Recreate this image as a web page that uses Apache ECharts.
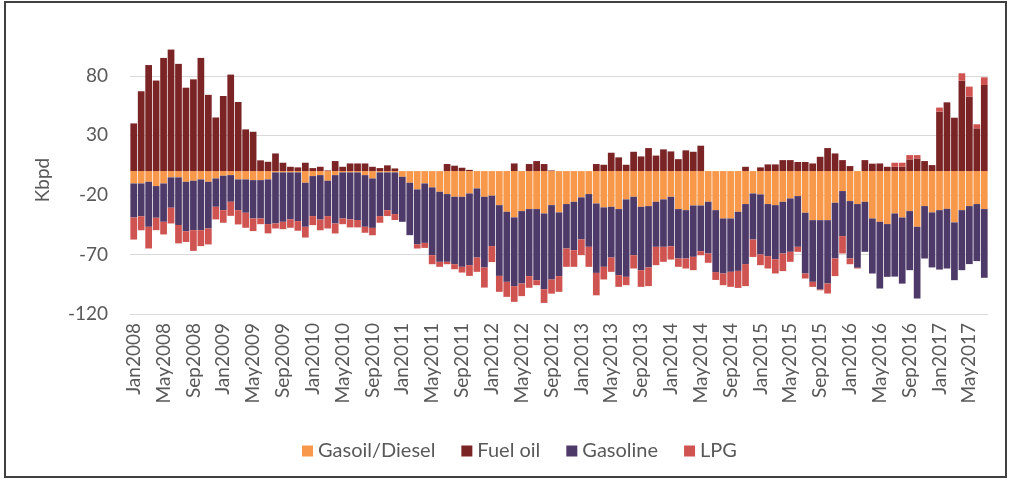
<html>

<head>
    <meta charset="UTF-8">
    <title>Kbpd by product</title>
    <script src="https://cdn.jsdelivr.net/npm/echarts@6/dist/echarts.min.js"></script>
    <style>
        body { margin: 0; background: #fff; }
    </style>
</head>

<body>
    <div id="container" style="width: 1011px;height:479px;"></div>
</body>

<script>
    // monthly, Jan2008 .. Jul2017
    var months = ['Jan', 'Feb', 'Mar', 'Apr', 'May', 'Jun', 'Jul', 'Aug', 'Sep', 'Oct', 'Nov', 'Dec'];
    var categories = [];
    for (var i = 0; i < 115; i++) {
        categories.push(months[i % 12] + (2008 + Math.floor(i / 12)));
    }

    var gasoil = [
        -10.4, -10.4, -9, -12.6, -10.4, -5.3, -5.3, -9, -8.1, -7, -9, -6.2, -3.9, -3.4, -7, -7, -7.6, -7.6, -7,
        -1.1, -1.1, -1.1, -1.1, -9.8, -4.2, -3.4, -8.1, -3.4, -1.1, -1.1, -1.1, -3.4, -6.2, -1.1, -1.1, -1.1, -4.8, -9.8, -15.4,
        -10.4, -13.7, -17.4, -19.3, -21.6, -21.6, -18.8, -14.6, -21.6, -20.7, -28.6, -34.2, -38.9, -33.6, -31.9, -31.9, -35.6, -28.6, -34.7, -27.7,
        -25.8, -22.1, -19.3, -27.2, -30.5, -30, -31.9, -23.8, -21.6, -30, -29.4, -25.8, -23.8, -21.6, -31.9, -32.8, -28.9, -28.9, -25.8, -32.8,
        -39.8, -39.8, -34.2, -27.7, -18.8, -19.6, -27.7, -28.6, -25.8, -23, -21, -35, -41.2, -41.2, -41.2, -26.6, -16.8, -25.2, -27.7, -25.8,
        -39.8, -42.6, -44.5, -35.6, -39, -33.6, -46.8, -29.4, -34.7, -32.8, -31.7, -43.1, -32.8, -29.4, -27.7, -31.9
    ];
    var fuelOil = [
        40, 67, 89, 76, 95, 102, 90, 70, 77, 95, 64, 45, 63, 81, 58, 35, 33, 9, 7.8,
        14.8, 7, 3.6, 3.1, 7, 2.5, 3.6, 0.5, 8.4, 3.6, 6.4, 6.4, 6.4, 3.6, 2.5, 4.8, 2.2, 0, 0, 0,
        0, 0, 0, 5.9, 4.5, 2.8, 1, 0, 0, 0, 0, 0, 6.4, 0, 5.9, 8.4, 5.9, 0.5, 0, 0,
        0, 0, 0, 5.9, 5.3, 15.4, 11.5, 5.3, 16.2, 12.3, 19.3, 13, 18.2, 16.5, 10, 17.4, 16.2, 21.3, 0, 0,
        0, 0, 0, 3.6, 0, 3.1, 5.6, 5.6, 9.2, 9.2, 7.6, 7.6, 6.4, 12, 19.3, 14.8, 9.2, 4.2, 0, 9.2,
        6.2, 6.4, 3.6, 3.6, 3.6, 9.8, 10.6, 8.4, 5, 49.9, 57.7, 44.8, 75.9, 62.5, 35.9, 72.3
    ];
    var gasoline = [
        -28.6, -27.5, -37.8, -26.6, -32.2, -25.5, -40, -41.5, -41.5, -42.6, -39.2, -23.8, -28.9, -22.4, -25.8, -28, -32.2, -32.2, -37.5,
        -42.9, -41.5, -39.5, -40.9, -37, -33.6, -37.3, -29.7, -40.6, -38.7, -39.5, -40, -43.4, -41.5, -36.7, -31.7, -35, -37.8, -44, -46,
        -49.9, -56.9, -58.8, -56.9, -56.6, -58.8, -60.2, -58, -59.4, -42.3, -59.4, -58.8, -57.7, -60.8, -56.3, -59.7, -63.6, -62.5, -53.5, -37.3,
        -40.6, -35.3, -44.3, -58.3, -49.9, -42.6, -55.5, -65, -49, -53.2, -51.5, -37.8, -39.8, -41.5, -41.5, -40.6, -43.1, -38.4, -43.4, -52,
        -46.2, -44.8, -49.6, -50.4, -38.7, -50.4, -43.7, -45.4, -43.4, -44.8, -42.6, -51, -51.8, -58.3, -53.2, -46.8, -37.8, -48.2, -53.5, -42,
        -46.2, -56, -44.3, -53, -55.5, -49.6, -60.2, -44, -46.2, -49.9, -50.1, -48.5, -50.4, -48.7, -47.9, -57.7
    ];
    var lpg = [
        -18.5, -11.8, -18.2, -10.4, -10.6, -13.2, -15.4, -9, -17.4, -13.4, -13.4, -10.6, -10.6, -11.8, -12, -12.6, -10.6, -4.8, -7.8,
        -4.2, -6.2, -7, -8.1, -9, -7.6, -9, -10.4, -8.4, -4.8, -6.7, -6.2, -5, -6.2, -5.6, -5, -5, 0, 0, -3.6,
        -4.2, -7.6, -4.2, -2, -4.2, -4.8, -9, -12, -16.8, -13.4, -13.4, -12.6, -13.2, -10.6, -9.8, -4.2, -11.5, -11.8, -13.2, -15.4,
        -14, -13.2, -16.8, -18.8, -10.6, -12, -9.8, -7, -11.2, -14, -15.7, -15.4, -12.6, -11.2, -7, -8.4, -11.2, -3.4, -7.8, -6.6,
        -9.8, -12.6, -14.3, -18.5, -14.6, -9, -10.4, -12, -14.8, -8.4, -4.2, -4.2, -4.2, -0.6, -8.4, -14.8, -14.6, -4.8, -0.6, 0,
        0, 0, 0, 3.4, 3.4, 3.6, 2.8, 0, 0, 3.4, 0, 0, 6.2, 8.4, 3.4, 6.4
    ];

    var yTicks = { min: -120, max: 105, step: 50 };

    var mycharts = echarts.init(document.getElementById('container'));

    function makeSeries(name, data, color) {
        return {
            name: name,
            type: 'bar',
            stack: 'total',
            barCategoryGap: '10%',
            itemStyle: { color: color },
            emphasis: { disabled: true },
            data: data
        };
    }

    var font = 'Lato, "Open Sans", sans-serif';

    var option = {
        animation: false,
        backgroundColor: '#fff',
        textStyle: { fontFamily: font },
        graphic: [{
            type: 'rect',
            silent: true,
            shape: { x: 5, y: 2, width: 1001, height: 475 },
            style: { fill: 'none', stroke: '#404040', lineWidth: 2 }
        }],
        legend: {
            left: 297,
            top: 436,
            icon: 'rect',
            itemWidth: 11,
            itemHeight: 11,
            itemGap: 26,
            textStyle: { fontSize: 20, color: '#595959', fontFamily: font },
            data: ['Gasoil/Diesel', 'Fuel oil', 'Gasoline', 'LPG']
        },
        grid: {
            left: 130,
            right: 23,
            top: 46,
            bottom: 165,
            containLabel: false
        },
        xAxis: {
            type: 'category',
            data: categories,
            axisLine: { onZero: false, lineStyle: { color: '#d9d9d9' } },
            axisTick: { show: false },
            axisLabel: {
                interval: 3,
                rotate: 90,
                margin: 9,
                fontSize: 19,
                color: '#595959',
                fontFamily: font
            }
        },
        yAxis: {
            type: 'value',
            min: yTicks.min,
            max: yTicks.max,
            interval: yTicks.step,
            name: 'Kbpd',
            nameLocation: 'middle',
            nameGap: 78,
            nameTextStyle: { fontSize: 19, color: '#595959', fontFamily: font },
            axisLine: { show: false },
            axisTick: { show: false },
            axisLabel: {
                margin: 22,
                fontSize: 19,
                color: '#595959',
                fontFamily: font,
                showMaxLabel: false
            },
            splitLine: { showMaxLine: false, lineStyle: { color: '#d9d9d9' } }
        },
        series: [
            makeSeries('Gasoil/Diesel', gasoil, '#f7984a'),
            makeSeries('Fuel oil', fuelOil, '#7b2426'),
            makeSeries('Gasoline', gasoline, '#4e3a69'),
            makeSeries('LPG', lpg, '#cf5350')
        ]
    };

    mycharts.setOption(option);
</script>

</html>
